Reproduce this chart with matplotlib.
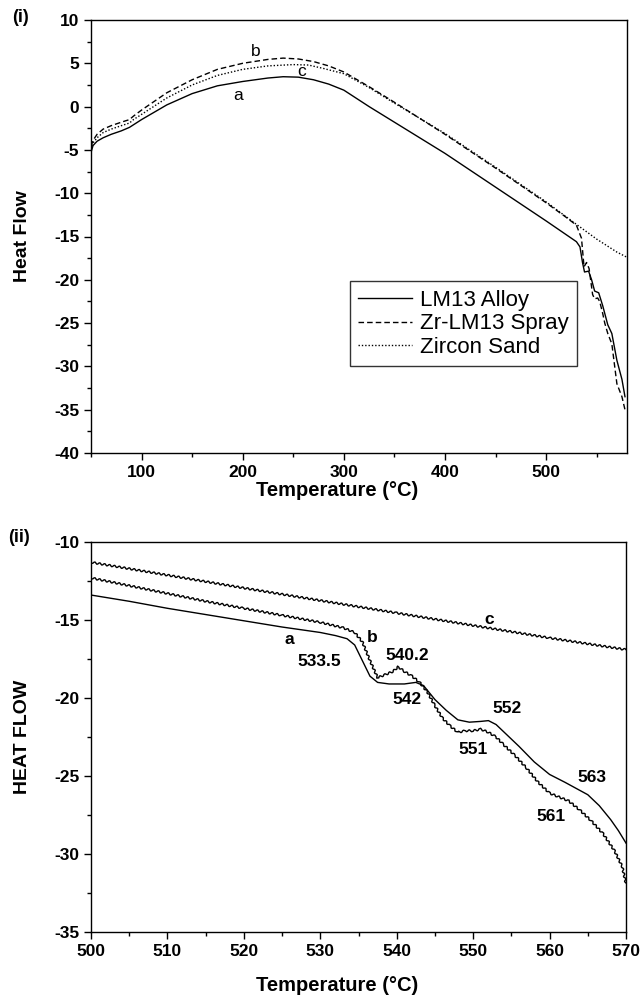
import matplotlib
matplotlib.use("Agg")
import matplotlib.pyplot as plt
from matplotlib.ticker import MultipleLocator

plt.rcParams['font.family'] = ['Liberation Sans', 'DejaVu Sans']
plt.rcParams['axes.unicode_minus'] = False

# ---- Panel (i): full DSC scans ----
temp_a = [50, 52, 56, 62, 70, 80, 88, 92, 100, 125, 150, 175, 200, 225, 240, 255, 270,
          285, 300, 325, 350, 400, 450, 500, 520, 530, 533.5, 536, 538, 542, 545, 548,
          552, 556, 561, 565, 570, 575, 578]
flow_a = [-5.3, -4.5, -4.0, -3.6, -3.2, -2.8, -2.4, -2.1, -1.5, 0.2, 1.5, 2.4, 2.9, 3.3,
          3.45, 3.4, 3.1, 2.6, 1.9, 0.0, -1.8, -5.4, -9.3, -13.2, -14.8, -15.6, -16.2,
          -18.0, -19.1, -19.0, -20.0, -21.3, -21.5, -23.0, -25.2, -26.2, -29.3, -31.5, -33.5]

temp_b = [50, 52, 56, 62, 70, 80, 88, 92, 100, 125, 150, 175, 200, 225, 240, 255, 270,
          285, 300, 325, 350, 400, 450, 500, 520, 530, 535, 537.5, 540, 542.5, 546, 548,
          551, 553, 556, 558, 561, 565, 570, 575, 578]
flow_b = [-4.6, -3.9, -3.2, -2.6, -2.2, -1.8, -1.5, -1.1, -0.4, 1.6, 3.1, 4.3, 5.0, 5.45,
          5.6, 5.5, 5.2, 4.7, 4.0, 2.3, 0.5, -3.2, -7.1, -11.1, -12.8, -13.7, -15.2, -18.5,
          -18.0, -18.7, -21.7, -22.2, -22.1, -22.5, -23.9, -25.0, -26.2, -27.4, -32.0,
          -33.5, -35.0]

temp_c = [50, 52, 56, 62, 70, 80, 88, 92, 100, 125, 150, 175, 200, 225, 250, 265, 280,
          300, 325, 350, 400, 450, 500, 530, 550, 570, 580]
flow_c = [-4.9, -4.2, -3.6, -3.0, -2.6, -2.2, -1.9, -1.5, -0.9, 1.0, 2.5, 3.6, 4.3, 4.7,
          4.85, 4.8, 4.4, 3.8, 2.2, 0.4, -3.1, -7.0, -11.0, -13.6, -15.3, -16.8, -17.4]

series_names = ["LM13 Alloy", "Zr-LM13 Spray", "Zircon Sand"]

# ---- Panel (ii): melting region detail ----
t2_a = [500, 505, 510, 515, 520, 525, 530, 532, 533.5, 534.5, 535.5, 536.5, 537.5, 539,
        541, 542.5, 543.5, 545, 546.5, 548, 549.5, 551, 552, 553, 554.5, 556, 558, 560,
        562, 563.5, 565, 566.5, 568, 569, 570]
h2_a = [-13.4, -13.8, -14.25, -14.65, -15.05, -15.45, -15.8, -16.0, -16.2, -16.6, -17.6,
        -18.6, -19.0, -19.1, -19.1, -19.0, -19.2, -20.1, -20.8, -21.4, -21.55, -21.5,
        -21.45, -21.7, -22.4, -23.1, -24.1, -24.9, -25.4, -25.8, -26.2, -26.9, -27.8,
        -28.5, -29.3]

t2_b = [500, 505, 510, 515, 520, 525, 530, 533, 534.5, 535.5, 536.5, 537.5, 538.5, 539.5,
        540.2, 541, 542, 543, 544, 545, 546, 547, 548, 549, 550, 551, 552, 553, 554,
        555.5, 557, 558.5, 560, 561, 562.5, 564, 565.5, 567, 568.5, 569.5, 570]
h2_b = [-12.3, -12.8, -13.3, -13.8, -14.25, -14.7, -15.15, -15.5, -15.8, -16.4, -17.6,
        -18.7, -18.5, -18.3, -18.0, -18.3, -18.6, -19.0, -19.6, -20.5, -21.3, -21.8,
        -22.2, -22.1, -22.1, -22.0, -22.2, -22.5, -23.0, -23.7, -24.5, -25.4, -26.1,
        -26.3, -26.6, -27.2, -27.9, -28.7, -29.8, -30.8, -31.9]

t2_c = [500, 520, 540, 560, 570]
h2_c = [-11.3, -12.95, -14.55, -16.15, -16.9]

# peak temperature annotations: (text, x, y)
peak_labels = [("533.5", 529.9, -17.65), ("540.2", 541.4, -17.3), ("542", 541.4, -20.1),
               ("552", 554.4, -20.7), ("551", 550.0, -23.3), ("563", 565.6, -25.1),
               ("561", 560.2, -27.6)]
curve_tags_ii = [("a", 525.9, -16.25), ("b", 536.8, -16.15), ("c", 552.1, -15.0)]
curve_tags_i = [("b", 213, 6.4), ("c", 258, 4.1), ("a", 195, 1.3)]

fig = plt.figure(figsize=(6.43, 9.98), dpi=100)
W, H = 643, 998
ax1 = fig.add_axes([91 / W, 1 - 453 / H, 536 / W, 433 / H])
ax2 = fig.add_axes([91 / W, 1 - 932 / H, 535 / W, 390 / H])

lw = 1.0
ax1.plot(temp_a, flow_a, color="black", lw=lw, label=series_names[0])
ax1.plot(temp_b, flow_b, color="black", lw=lw, linestyle=(0, (4, 2.2)), label=series_names[1])
ax1.plot(temp_c, flow_c, color="black", lw=lw, linestyle=(0, (1, 1.4)), label=series_names[2])
for txt, x, y in curve_tags_i:
    ax1.text(x, y, txt, fontsize=12.5, ha="center", va="center")

ax1.set_xlim(50, 580)
ax1.set_ylim(-40, 10)
ax1.xaxis.set_major_locator(MultipleLocator(100))
ax1.xaxis.set_minor_locator(MultipleLocator(50))
ax1.yaxis.set_major_locator(MultipleLocator(5))
ax1.yaxis.set_minor_locator(MultipleLocator(2.5))
ax1.set_xlabel("Temperature (\u00b0C)", fontsize=14.5, fontweight="bold")
ax1.set_ylabel("Heat Flow", fontsize=14, fontweight="bold")
ax1.xaxis.set_label_coords(0.46, -28 / 433)
ax1.yaxis.set_label_coords(-60 / 536, 0.5)
leg = ax1.legend(loc="lower right", bbox_to_anchor=(0.907, 0.2), fontsize=16,
                 frameon=True, fancybox=False, edgecolor="black", handlelength=2.4,
                 borderpad=0.4, labelspacing=0.1, handletextpad=0.35, borderaxespad=0)
leg.get_frame().set_linewidth(1.0)

ax2.plot(t2_a, h2_a, color="black", lw=lw)
lb, = ax2.plot(t2_b, h2_b, color="black", lw=lw)
lc, = ax2.plot(t2_c, h2_c, color="black", lw=lw)
for ln in (lb, lc):
    ln.set_sketch_params(scale=1.0, length=5, randomness=1.0)
for txt, x, y in peak_labels + curve_tags_ii:
    ax2.text(x, y, txt, fontsize=12.5, fontweight="bold", ha="center", va="center")

ax2.set_xlim(500, 570)
ax2.set_ylim(-35, -10)
ax2.xaxis.set_major_locator(MultipleLocator(10))
ax2.xaxis.set_minor_locator(MultipleLocator(5))
ax2.yaxis.set_major_locator(MultipleLocator(5))
ax2.yaxis.set_minor_locator(MultipleLocator(2.5))
ax2.set_xlabel("Temperature (\u00b0C)", fontsize=14.5, fontweight="bold")
ax2.set_ylabel("HEAT FLOW", fontsize=14, fontweight="bold")
ax2.xaxis.set_label_coords(0.46, -44 / 390)
ax2.yaxis.set_label_coords(-60 / 535, 0.5)

for ax in (ax1, ax2):
    for s in ax.spines.values():
        s.set_linewidth(1.0)
    ax.tick_params(which="both", direction="out", top=False, right=False, width=1.0)
    ax.tick_params(which="major", length=5, labelsize=12.5)
    ax.tick_params(which="minor", length=3)
    for lab in ax.get_xticklabels() + ax.get_yticklabels():
        lab.set_fontweight("bold")

fig.text(12 / W, 1 - 18 / H, "(i)", fontsize=13, fontweight="bold", va="center")
fig.text(8 / W, 1 - 537 / H, "(ii)", fontsize=13, fontweight="bold", va="center")

fig.savefig("out.png", dpi=100)
